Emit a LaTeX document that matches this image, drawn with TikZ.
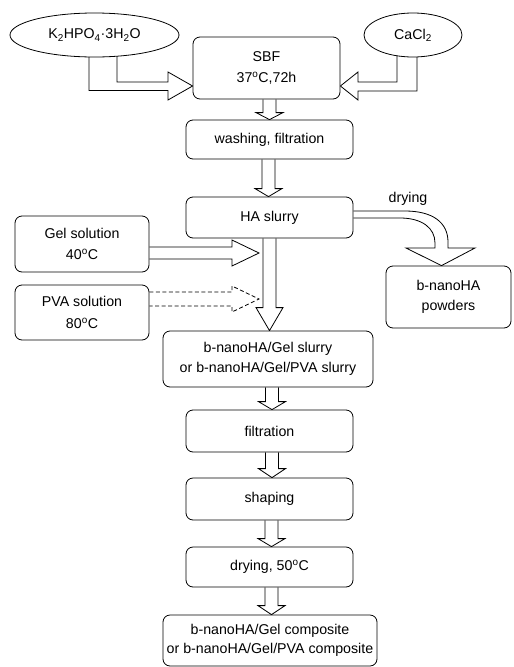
\documentclass[tikz,border=0pt]{standalone}
\usepackage{fontspec}
\setmainfont{Liberation Sans}
\usetikzlibrary{calc,backgrounds,shapes.geometric}

% vertical block arrow from node #1 down to node #2 at abscissa #3, head length #4
\newcommand\downblock[4]{%
  \path (#3,0 |- #1.south) coordinate (bt) (#3,0 |- #2.north) coordinate (bh);
  \draw[blk] ($(bt)+(-6.5,0)$) -- ($(bh)+(-6.5,-#4)$) -- ($(bh)+(-13.5,-#4)$) -- (bh)
    -- ($(bh)+(13.5,-#4)$) -- ($(bh)+(6.5,-#4)$) -- ($(bt)+(6.5,0)$);}

\begin{document}
\begin{tikzpicture}[x=1pt,y=-1pt,
  txt/.style={font=\fontsize{14.2}{19.5}\selectfont},
  box/.style={txt, draw, rounded corners=7pt, fill=white, line width=0.8pt, align=center, inner sep=0pt},
  oval/.style={txt, draw, ellipse, fill=white, line width=0.8pt, inner sep=0pt},
  blk/.style={draw, line width=0.8pt, fill=white, line join=miter},
  dblk/.style={blk, dash pattern=on 4pt off 2.5pt},
  ]
\useasboundingbox (0,0) rectangle (514,667);

% reagents
\node[oval, minimum width=169pt, minimum height=44pt] (lk) at (94.5,35)
  {K\textsubscript{2}HPO\textsubscript{4}·3H\textsubscript{2}O};
\node[oval, minimum width=98pt, minimum height=44pt] (rk) at (413,35) {CaCl\textsubscript{2}};

% process steps
\node[box, minimum width=147pt, minimum height=62pt] (sbf) at (266.5,68)
  {SBF\\[2pt]37\textsuperscript{o}C,72h};
\node[box, minimum width=167pt, minimum height=39pt] (wash) at (269.5,139.5) {washing, filtration};
\node[box, minimum width=167pt, minimum height=41pt] (ha) at (269.5,217.5) {HA slurry};
\node[box, minimum width=134pt, minimum height=56pt] (gel) at (82,244)
  {Gel solution\\[2pt]40\textsuperscript{o}C};
\node[box, minimum width=134pt, minimum height=55pt] (pva) at (82,312.5)
  {PVA solution\\[2pt]80\textsuperscript{o}C};
\node[box, minimum width=125pt, minimum height=62pt] (pw) at (448.5,297)
  {b-nanoHA\\powders};
\node[box, minimum width=210pt, minimum height=56pt] (sl) at (268,359)
  {b-nanoHA/Gel slurry\\or b-nanoHA/Gel/PVA slurry};
\node[box, minimum width=167pt, minimum height=42pt] (fi) at (269.5,431) {filtration};
\node[box, minimum width=167pt, minimum height=42pt] (sh) at (269.5,499) {shaping};
\node[box, minimum width=167pt, minimum height=40pt] (dr) at (269.5,567) {drying, 50\textsuperscript{o}C};
\node[box, minimum width=214pt, minimum height=51pt] (fc) at (270,640.5)
  {b-nanoHA/Gel composite\\or b-nanoHA/Gel/PVA composite};

\node[txt] (dl) at (408,199) {drying};

\begin{scope}[on background layer]
  % bent arrows into SBF
  \draw[blk] (89,0 |- lk.center) -- (89,90.5) -- (168,90.5) -- (168,100) -- (sbf.west |- 0,86)
    -- (168,72) -- (168,82) -- (117,82) -- (117,0 |- lk.center);
  \draw[blk] (417,0 |- rk.center) -- (417,91) -- (358,91) -- (358,100) -- (sbf.east |- 0,86)
    -- (358,72) -- (358,82) -- (397,82) -- (397,0 |- rk.center);
  % main line
  \downblock{sbf}{wash}{269.5}{7}
  \downblock{wash}{ha}{268.5}{8}
  \downblock{ha}{sl}{269.5}{23}
  \downblock{sl}{fi}{272}{8}
  \downblock{fi}{sh}{272}{9}
  \downblock{sh}{dr}{271.5}{8}
  \downblock{dr}{fc}{271.5}{9}
  % additions to the slurry
  \draw[blk] (gel.east |- 0,247) -- (232,247) -- (232,240) -- (259,253) -- (232,266)
    -- (232,259) -- (gel.east |- 0,259);
  \draw[dblk] (pva.east |- 0,292) -- (232,292) -- (232,286) -- (259,299) -- (232,312)
    -- (232,306) -- (pva.east |- 0,306);
  % drying branch
  \draw[blk] (ha.east |- 0,211) -- (405,211) .. controls (432,211) and (448,222) .. (448,242)
    -- (448,248) -- (475,248) -- (441.5,0 |- pw.north) -- (406,248) -- (435,248) -- (435,243)
    .. controls (435,228) and (422,218) .. (400,218) -- (ha.east |- 0,218);
\end{scope}
\end{tikzpicture}
\end{document}
